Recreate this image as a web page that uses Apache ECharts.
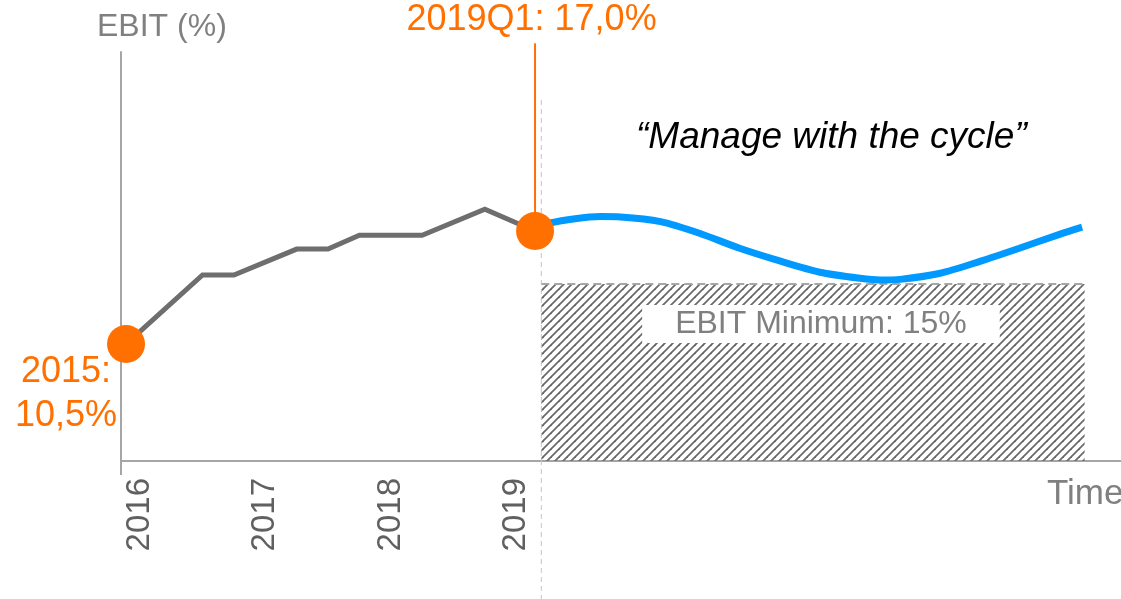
<!DOCTYPE html>
<html><head><meta charset="utf-8">
<script src="https://cdn.jsdelivr.net/npm/echarts@6/dist/echarts.min.js"></script>
<style>html,body{margin:0;padding:0;background:#fff}#c{width:1121px;height:599px}</style>
</head><body><div id="c"></div>
<script>
// ---- data (years on x, EBIT % on y) ----
const histYears = [2015.89, 2016.5, 2016.75, 2017.25, 2017.5, 2017.75, 2018.25, 2018.75, 2019.15];
const histEbit  = [10.5, 14.47, 14.47, 15.96, 15.96, 16.76, 16.76, 18.25, 17.0];
const cycleYears = [2019.15, 2019.27, 2019.67, 2019.83, 2020.15, 2020.46, 2020.78, 2021.10, 2021.42, 2021.74, 2021.90, 2022.06, 2022.38, 2022.69, 2023.01, 2023.33, 2023.51];
const cycleEbit  = [17.0, 17.46, 17.83, 17.81, 17.54, 16.87, 16.01, 15.28, 14.63, 14.28, 14.18, 14.22, 14.57, 15.24, 16.01, 16.81, 17.22];
const tickYears = [2016, 2017, 2018, 2019];
const markerYears = [2015.89, 2019.15];
const markerEbit = [10.5, 17.0];
const markerLabels = ['2015:\n10,5%', '2019Q1: 17,0%'];
const minimumSpan = [2019.2, 2023.53];
const minimumLevel = 13.95;
const minimumLabel = 'EBIT Minimum: 15%';
const forecastStart = 2019.2;
const dashTopEbit = 24.54, dashBottomEbit = -4.2;
const leaderTopEbit = 27.8;
const xMin = 2015.85, xMax = 2023.82, yMin = 3.77, yMax = 27.3;

const FONT = '"Liberation Sans", Arial, Helvetica, sans-serif';
const ORANGE = '#FF7000', BLUE = '#0099FF', GRAY_LINE = '#6E6E6E', AXIS = '#A6A6A6', TXT = '#808080';

// hatch pattern
const pc = document.createElement('canvas');
pc.width = 8; pc.height = 8;
const g = pc.getContext('2d');
g.strokeStyle = '#6a6a6a'; g.lineWidth = 1.8;
[[0,8,8,0],[-2,2,2,-2],[6,10,10,6]].forEach(l => { g.beginPath(); g.moveTo(l[0], l[1]); g.lineTo(l[2], l[3]); g.stroke(); });

const chart = echarts.init(document.getElementById('c'), null, {renderer: 'canvas'});
const option = {
  animation: false,
  textStyle: {fontFamily: FONT},
  grid: {left: 121, right: 0, top: 52, bottom: 138, containLabel: false},
  xAxis: {
    type: 'value', min: xMin, max: xMax,
    axisLine: {show: true, lineStyle: {color: AXIS, width: 2}},
    axisTick: {show: true, customValues: [xMin], length: 14, inside: false, lineStyle: {color: AXIS, width: 2}},
    axisLabel: {customValues: tickYears, rotate: 90, margin: 17, fontSize: 33, color: '#606060', fontFamily: FONT,
      formatter: v => String(Math.round(v))},
    splitLine: {show: false}
  },
  yAxis: {
    type: 'value', min: yMin, max: yMax,
    axisLine: {show: true, lineStyle: {color: AXIS, width: 2}},
    axisTick: {show: false}, axisLabel: {show: false}, splitLine: {show: false}
  },
  graphic: [
    {type: 'text', x: 97, y: 27, style: {text: 'EBIT (%)', fontSize: 32, fontFamily: FONT, fill: TXT, align: 'left', verticalAlign: 'middle'}},
    {type: 'text', x: 636, y: 138, style: {text: '\u201CManage with the cycle\u201D', fontSize: 37, fontStyle: 'italic', fontFamily: FONT, fill: '#000', align: 'left', verticalAlign: 'middle'}},
    {type: 'text', x: 1047, y: 494, style: {text: 'Time', fontSize: 35, fontFamily: FONT, fill: TXT, align: 'left', verticalAlign: 'middle'}}
  ],
  series: [
    {
      type: 'custom', name: 'minimum', z: 1, clip: false,
      data: [[minimumSpan[0], minimumSpan[1], minimumLevel]],
      renderItem: (params, api) => {
        const p0 = api.coord([api.value(0), api.value(2)]);
        const p1 = api.coord([api.value(1), yMin]);
        return {type: 'group', children: [
          {type: 'rect', shape: {x: p0[0], y: p0[1], width: p1[0] - p0[0], height: p1[1] - p0[1]},
           style: {fill: {image: pc, repeat: 'repeat'}}},
          {type: 'line', shape: {x1: p0[0], y1: p0[1], x2: p1[0], y2: p0[1]},
           style: {stroke: AXIS, lineWidth: 2, lineDash: [8, 5]}},
          {type: 'text', x: (p0[0] + p1[0]) / 2 + 8, y: p0[1] + 40,
           style: {text: minimumLabel, align: 'center', verticalAlign: 'middle', fill: TXT, fontSize: 32, fontFamily: FONT,
                   backgroundColor: '#fff', padding: [3, 33]}}
        ]};
      }
    },
    {
      type: 'custom', name: 'guides', z: 2, clip: false,
      data: [[forecastStart]],
      renderItem: (params, api) => {
        const a = api.coord([api.value(0), dashTopEbit]);
        const b = api.coord([api.value(0), dashBottomEbit]);
        const m = api.coord([markerYears[1], markerEbit[1]]);
        const t = api.coord([markerYears[1], leaderTopEbit]);
        return {type: 'group', children: [
          {type: 'line', shape: {x1: a[0], y1: a[1], x2: b[0], y2: b[1]}, style: {stroke: '#c4c4c4', lineWidth: 1, lineDash: [5, 4]}},
          {type: 'line', shape: {x1: t[0], y1: t[1], x2: m[0], y2: m[1]}, style: {stroke: ORANGE, lineWidth: 2}}
        ]};
      }
    },
    {
      type: 'line', name: 'history', z: 3, symbol: 'none',
      data: histYears.map((x, i) => [x, histEbit[i]]),
      lineStyle: {color: GRAY_LINE, width: 5, join: 'miter'}
    },
    {
      type: 'line', name: 'cycle', z: 3, symbol: 'none', smooth: 0.25,
      data: cycleYears.map((x, i) => [x, cycleEbit[i]]),
      lineStyle: {color: BLUE, width: 7}
    },
    {
      type: 'scatter', name: 'markers', z: 5, symbolSize: 38, clip: false,
      itemStyle: {color: ORANGE, opacity: 1},
      data: markerYears.map((x, i) => ({
        value: [x, markerEbit[i]],
        label: i === 0
          ? {show: true, formatter: markerLabels[i], position: [-41, 69.5], align: 'center', verticalAlign: 'middle',
             color: ORANGE, fontSize: 36, lineHeight: 44, fontFamily: FONT}
          : {show: true, formatter: markerLabels[i], position: [15.5, -191.5], align: 'center', verticalAlign: 'middle',
             color: ORANGE, fontSize: 36, fontFamily: FONT}
      }))
    }
  ]
};
chart.setOption(option);
</script>
</body></html>
